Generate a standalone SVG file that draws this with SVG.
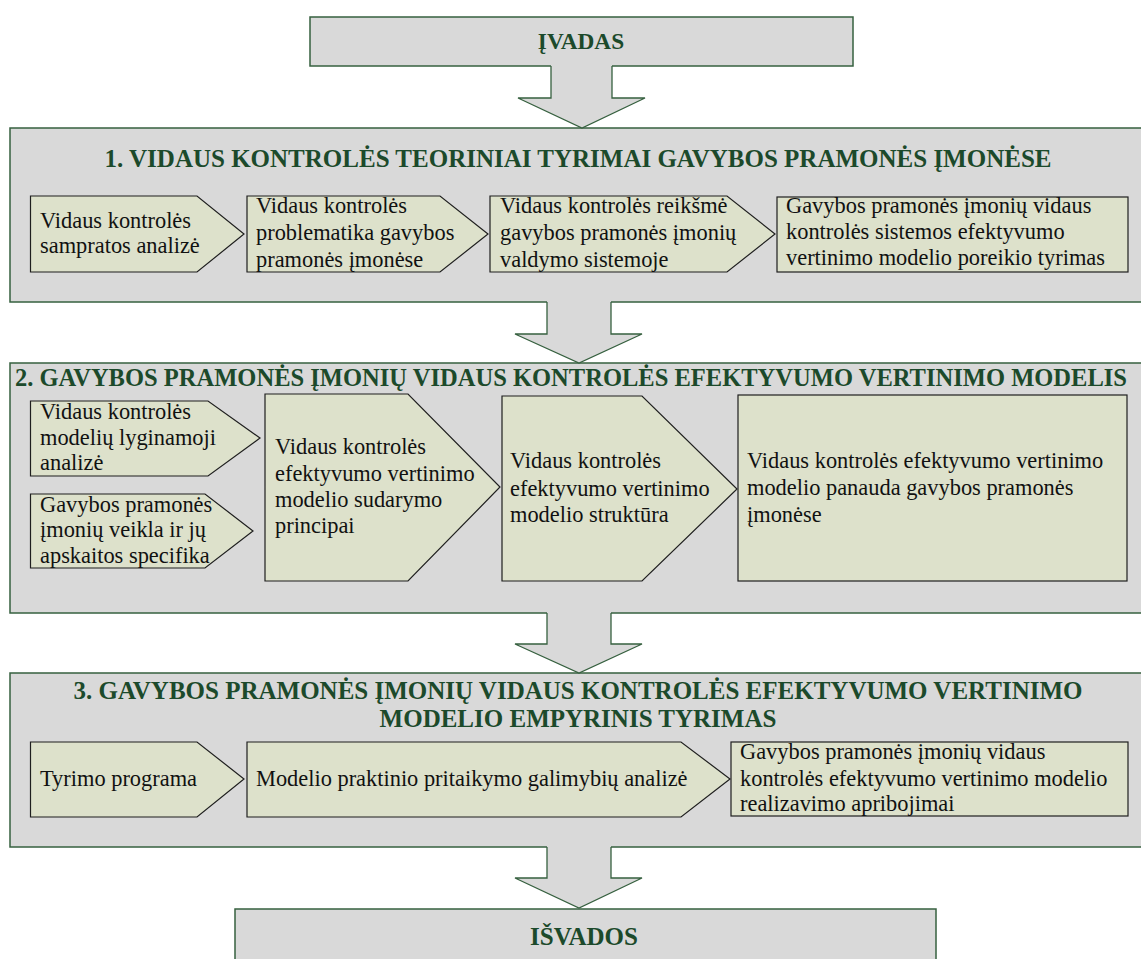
<svg xmlns="http://www.w3.org/2000/svg" width="1141" height="959" viewBox="0 0 1141 959">
  <style>
    .sec { fill: #d9d9d9; stroke: #36603f; stroke-width: 1.5; }
    .item { fill: #dde1cb; stroke: #1f1f1f; stroke-width: 1.2; }
    .arrow-fill { fill: #d9d9d9; stroke: none; }
    .arrow-edge { fill: none; stroke: #36603f; stroke-width: 1.3; stroke-linejoin: miter; }
    .title { font-family: 'Liberation Serif', Tinos, 'Times New Roman', 'DejaVu Serif', serif; font-weight: bold; font-size: 25px; fill: #1c4a2b; }
    .small { font-size: 23.3px; }
    .wide { font-size: 24.6px; }
    .txt { font-family: 'Liberation Serif', Tinos, 'Times New Roman', 'DejaVu Serif', serif; font-size: 22.4px; fill: #111; }
  </style>
  <rect width="1141" height="959" fill="#ffffff"/>

  <!-- Introduction -->
  <g id="ivadas">
    <rect class="sec" x="310" y="17" width="543" height="49"/>
    <text class="title small" x="581" y="49" text-anchor="middle">ĮVADAS</text>
  </g>

  <!-- Section 1 -->
  <g id="section1">
    <rect class="sec" x="10" y="128" width="1140" height="174"/>
    <text class="title" x="578" y="167" text-anchor="middle">1. VIDAUS KONTROLĖS TEORINIAI TYRIMAI GAVYBOS PRAMONĖS ĮMONĖSE</text>
  </g>
  <g id="s1-a">
    <polygon class="item" points="30.5,196 197,196 244,234 197,272 30.5,272"/>
    <text class="txt" x="40" y="228">Vidaus kontrolės</text>
    <text class="txt" x="40" y="253">sampratos analizė</text>
  </g>
  <g id="s1-b">
    <polygon class="item" points="247,196 440,196 488,234 440,272 247,272"/>
    <text class="txt" x="256" y="213">Vidaus kontrolės</text>
    <text class="txt" x="256" y="240">problematika gavybos</text>
    <text class="txt" x="256" y="267">pramonės įmonėse</text>
  </g>
  <g id="s1-c">
    <polygon class="item" points="490,196 727,196 775,234 727,272 490,272"/>
    <text class="txt" x="500" y="213">Vidaus kontrolės reikšmė</text>
    <text class="txt" x="500" y="240">gavybos pramonės įmonių</text>
    <text class="txt" x="500" y="267">valdymo sistemoje</text>
  </g>
  <g id="s1-d">
    <rect class="item" x="777" y="197" width="351" height="75"/>
    <text class="txt" x="786" y="213">Gavybos pramonės įmonių vidaus</text>
    <text class="txt" x="786" y="239">kontrolės sistemos efektyvumo</text>
    <text class="txt" x="786" y="265">vertinimo modelio poreikio tyrimas</text>
  </g>

  <!-- Section 2 -->
  <g id="section2">
    <rect class="sec" x="10" y="363" width="1140" height="250"/>
    <text class="title wide" x="15" y="386" textLength="1112" lengthAdjust="spacingAndGlyphs">2. GAVYBOS PRAMONĖS ĮMONIŲ VIDAUS KONTROLĖS EFEKTYVUMO VERTINIMO MODELIS</text>
  </g>
  <g id="s2-e">
    <polygon class="item" points="30.5,401 208,401 260,438 208,476 30.5,476"/>
    <text class="txt" x="40" y="419">Vidaus kontrolės</text>
    <text class="txt" x="40" y="445">modelių lyginamoji</text>
    <text class="txt" x="40" y="470">analizė</text>
  </g>
  <g id="s2-f">
    <polygon class="item" points="30.5,494 205,494 253,531 205,568 30.5,568"/>
    <text class="txt" x="40" y="512">Gavybos pramonės</text>
    <text class="txt" x="40" y="537">įmonių veikla ir jų</text>
    <text class="txt" x="40" y="563">apskaitos specifika</text>
  </g>
  <g id="s2-g">
    <polygon class="item" points="265,394 408,394 500,487 408,581 265,581"/>
    <text class="txt" x="275" y="454">Vidaus kontrolės</text>
    <text class="txt" x="275" y="481">efektyvumo vertinimo</text>
    <text class="txt" x="275" y="507">modelio sudarymo</text>
    <text class="txt" x="275" y="533">principai</text>
  </g>
  <g id="s2-h">
    <polygon class="item" points="502,396 642,396 737,489 642,581 502,581"/>
    <text class="txt" x="510" y="468">Vidaus kontrolės</text>
    <text class="txt" x="510" y="496">efektyvumo vertinimo</text>
    <text class="txt" x="510" y="522">modelio struktūra</text>
  </g>
  <g id="s2-i">
    <rect class="item" x="738" y="395" width="389" height="186"/>
    <text class="txt" x="747" y="468">Vidaus kontrolės efektyvumo vertinimo</text>
    <text class="txt" x="747" y="495">modelio panauda gavybos pramonės</text>
    <text class="txt" x="747" y="522">įmonėse</text>
  </g>

  <!-- Section 3 -->
  <g id="section3">
    <rect class="sec" x="10" y="673" width="1140" height="174"/>
    <text class="title" x="578" y="699" text-anchor="middle">3. GAVYBOS PRAMONĖS ĮMONIŲ VIDAUS KONTROLĖS EFEKTYVUMO VERTINIMO</text>
    <text class="title" x="578" y="727" text-anchor="middle">MODELIO EMPYRINIS TYRIMAS</text>
  </g>
  <g id="s3-j">
    <polygon class="item" points="30.5,742 197,742 244,779 197,817 30.5,817"/>
    <text class="txt" x="40" y="786">Tyrimo programa</text>
  </g>
  <g id="s3-k">
    <polygon class="item" points="247,742 681,742 730,779 681,817 247,817"/>
    <text class="txt" x="256" y="786">Modelio praktinio pritaikymo galimybių analizė</text>
  </g>
  <g id="s3-l">
    <rect class="item" x="731" y="742" width="397" height="74"/>
    <text class="txt" x="740" y="759">Gavybos pramonės įmonių vidaus</text>
    <text class="txt" x="740" y="786">kontrolės efektyvumo vertinimo modelio</text>
    <text class="txt" x="740" y="811">realizavimo apribojimai</text>
  </g>

  <!-- Conclusions -->
  <g id="isvados">
    <rect class="sec" x="235" y="909" width="701" height="60"/>
    <text class="title" x="584" y="945" text-anchor="middle">IŠVADOS</text>
  </g>

  <!-- Block arrows between stages -->
  <g id="connectors">
    <polygon class="arrow-fill" points="551,65 612,65 612,98 645,98 582,128 518,98 551,98"/>
    <path class="arrow-edge" d="M551,66 V98 H518 L582,128 L645,98 H612 V66"/>

    <polygon class="arrow-fill" points="547,301 611,301 611,334 642,334 579,363 515,334 547,334"/>
    <path class="arrow-edge" d="M547,302 V334 H515 L579,363 L642,334 H611 V302"/>

    <polygon class="arrow-fill" points="547,612 611,612 611,644 642,644 579,673 515,644 547,644"/>
    <path class="arrow-edge" d="M547,613 V644 H515 L579,673 L642,644 H611 V613"/>

    <polygon class="arrow-fill" points="547,846 611,846 611,878 642,878 579,908 515,878 547,878"/>
    <path class="arrow-edge" d="M547,847 V878 H515 L579,908 L642,878 H611 V847"/>
  </g>
</svg>
